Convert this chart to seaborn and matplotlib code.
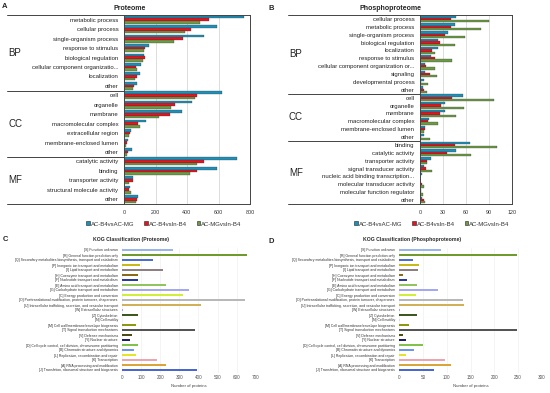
import numpy as np
import pandas as pd
import matplotlib
matplotlib.use("Agg")
import matplotlib.pyplot as plt
import matplotlib.transforms as mtrans
from matplotlib.patches import Patch
import seaborn as sns

sns.set_style("white")
plt.rcParams["font.family"] = ["Liberation Sans", "DejaVu Sans"]

# -----------------------------
# data
# -----------------------------
series = ["AC-B4vsAC-MG", "AC-B4vsIn-B4", "AC-MGvsIn-B4"]
series_colors = ["#1f8fb6", "#e1141f", "#6d9a45"]

# A: GO, proteome
prot_terms = ["metabolic process", "cellular process", "single-organism process",
              "response to stimulus", "biological regulation",
              "cellular component organizatio...", "localization", "other",
              "cell", "organelle", "membrane", "macromolecular complex",
              "extracellular region", "membrane-enclosed lumen", "other",
              "catalytic activity", "binding", "transporter activity",
              "structural molecule activity", "other"]
prot_groups = [("BP", 8), ("CC", 7), ("MF", 5)]
prot_b4_mg = [763, 591, 510, 161, 124, 105, 99, 81,
              624, 429, 371, 139, 43, 24, 49,
              720, 591, 60, 39, 88]
prot_b4_in = [538, 424, 377, 133, 133, 77, 81, 66,
              461, 324, 291, 92, 39, 17, 26,
              510, 461, 54, 34, 80]
prot_mg_in = [484, 388, 319, 129, 120, 81, 71, 60,
              450, 300, 221, 99, 30, 13, 17,
              461, 420, 34, 43, 75]

# B: GO, phosphoproteome
phos_terms = ["cellular process", "metabolic process", "single-organism process",
              "biological regulation", "localization", "response to stimulus",
              "cellular component organization or...", "signaling",
              "developmental process", "other",
              "cell", "organelle", "membrane", "macromolecular complex",
              "membrane-enclosed lumen", "other",
              "binding", "catalytic activity", "transporter activity",
              "signal transducer activity", "nucleic acid binding transcription...",
              "molecular transducer activity", "molecular function regulator", "other"]
phos_groups = [("BP", 10), ("CC", 6), ("MF", 8)]
phos_b4_mg = [47, 45, 37, 23, 23, 14, 7, 7, 5, 4,
              56, 33, 32, 12, 6, 5,
              65, 47, 14, 5, 3, 0, 1, 3]
phos_b4_in = [40, 40, 33, 26, 16, 20, 8, 13, 1, 5,
              42, 27, 26, 11, 6, 1,
              45, 35, 9, 8, 0, 3, 1, 5]
phos_mg_in = [90, 79, 59, 45, 20, 42, 19, 22, 11, 9,
              96, 57, 47, 23, 5, 13,
              100, 67, 9, 15, 0, 5, 4, 6]

# C / D: KOG classes
kog_labels = ["[S] Function unknown",
              "[R] General function prediction only",
              "[Q] Secondary metabolites biosynthesis, transport and catabolism",
              "[P] Inorganic ion transport and metabolism",
              "[I] Lipid transport and metabolism",
              "[H] Coenzyme transport and metabolism",
              "[F] Nucleotide transport and metabolism",
              "[E] Amino acid transport and metabolism",
              "[G] Carbohydrate transport and metabolism",
              "[C] Energy production and conversion",
              "[O] Posttranslational modification, protein turnover, chaperones",
              "[U] Intracellular trafficking, secretion, and vesicular transport",
              "[W] Extracellular structures",
              "[Z] Cytoskeleton",
              "[N] Cell motility",
              "[M] Cell wall/membrane/envelope biogenesis",
              "[T] Signal transduction mechanisms",
              "[V] Defense mechanisms",
              "[Y] Nuclear structure",
              "[D] Cell cycle control, cell division, chromosome partitioning",
              "[B] Chromatin structure and dynamics",
              "[L] Replication, recombination and repair",
              "[K] Transcription",
              "[A] RNA processing and modification",
              "[J] Translation, ribosomal structure and biogenesis"]
kog_colors = ["#9ab5ea", "#6e9a2e", "#4a6fd0", "#c9b81a", "#8e8080",
              "#8a6a18", "#2b3c9c", "#8fc45e", "#a3a8f0", "#d0ee3a",
              "#b8b8b8", "#d2b05a", "#a8a0f0", "#3c5a20", "#d8d8f0",
              "#8c9a12", "#555555", "#4d4a14", "#1e2066", "#80c24a",
              "#6e96ea", "#e4e42a", "#eba5b0", "#d9a53a", "#4a66d0"]
kog_prot = [265, 656, 160, 96, 215, 86, 86, 232, 351, 319, 644, 414, 7,
            86, 2, 73, 382, 51, 40, 84, 63, 72, 185, 232, 394]
kog_phos = [88, 248, 29, 43, 39, 8, 16, 38, 81, 35, 135, 137, 2,
            37, 2, 22, 248, 9, 15, 50, 32, 15, 97, 109, 73]

W, H = 550, 393


def rect(left, right, top, bottom):
    return [left / W, 1 - bottom / H, (right - left) / W, (bottom - top) / H]


def go_panel(ax, terms, groups, vals, xmax, step, line_px, ax_left, ax_right):
    keys = [f"{i}" for i in range(len(terms))]
    rows = []
    for s, v in zip(series, vals):
        for k, x in zip(keys, v):
            rows.append({"term": k, "series": s, "value": x})
    df = pd.DataFrame(rows)
    sns.barplot(data=df, y="term", x="value", hue="series", order=keys,
                hue_order=series, palette=series_colors, width=0.85,
                saturation=1, edgecolor="#333333", linewidth=0.2,
                legend=False, ax=ax)
    n = len(terms)
    ax.set_yticks(range(n))
    ax.set_yticklabels(terms, fontsize=4.3, color="#222222")
    ax.set_ylim(n - 0.5, -0.5)
    ax.set_xlim(0, xmax)
    ax.set_xticks(np.arange(0, xmax + 1, step))
    ax.tick_params(axis="x", labelsize=3.9, length=0, pad=4, colors="#333333")
    ax.tick_params(axis="y", length=0, pad=4)
    ax.set_xlabel("")
    ax.set_ylabel("")
    ax.grid(axis="x", color="#d0d0d0", lw=0.5)
    ax.set_axisbelow(True)
    for sp in ax.spines.values():
        sp.set_color("#444444")
        sp.set_linewidth(0.7)

    tr = mtrans.blended_transform_factory(ax.transAxes, ax.transData)
    xl = (line_px - ax_left) / (ax_right - ax_left)
    # frame extension over label area
    for y in (-0.5, n - 0.5):
        ax.plot([xl, 0], [y, y], transform=tr, clip_on=False,
                color="#444444", lw=0.7)
    start = 0
    for i, (g, cnt) in enumerate(groups):
        if i > 0:
            ax.plot([xl, 0], [start - 0.5, start - 0.5], transform=tr,
                    clip_on=False, color="#444444", lw=0.7)
        ax.text(xl + 0.01, start + cnt / 2 - 0.5, g, transform=tr,
                fontsize=7, va="center", ha="left", color="#222222")
        start += cnt


def kog_panel(ax, vals, xmax, step):
    df = pd.DataFrame({"kog": kog_labels, "value": vals})
    sns.barplot(data=df, y="kog", x="value", hue="kog", order=kog_labels,
                hue_order=kog_labels, palette=kog_colors, width=0.5,
                saturation=1, linewidth=0, legend=False, ax=ax)
    n = len(kog_labels)
    ax.set_ylim(n - 0.5, -0.5)
    ax.set_xlim(0, xmax)
    ax.set_xticks(np.arange(0, xmax + 1, step))
    ax.tick_params(axis="y", labelsize=2.5, length=0, pad=3, colors="#333333")
    ax.tick_params(axis="x", labelsize=3.3, length=0, pad=2, colors="#555555")
    ax.set_ylabel("")
    ax.set_xlabel("Number of proteins", fontsize=3.1, color="#444444", labelpad=3)
    ax.grid(axis="x", color="#ececec", lw=0.4)
    ax.set_axisbelow(True)
    sns.despine(ax=ax, left=True, bottom=True)


fig = plt.figure(figsize=(5.5, 3.93), dpi=100)

axA = fig.add_axes(rect(124, 250, 15, 204))
go_panel(axA, prot_terms, prot_groups, [prot_b4_mg, prot_b4_in, prot_mg_in],
         800, 200, 7, 124, 250)
axB = fig.add_axes(rect(420, 512, 15, 204))
go_panel(axB, phos_terms, phos_groups, [phos_b4_mg, phos_b4_in, phos_mg_in],
         120, 30, 288, 420, 512)

axC = fig.add_axes(rect(122, 255.7, 247.5, 372.5))
kog_panel(axC, kog_prot, 700, 100)
axD = fig.add_axes(rect(399, 542, 247.5, 372.5))
kog_panel(axD, kog_phos, 300, 50)

# titles and panel letters
fig.text(130 / W, 1 - 8 / H, "Proteome", fontsize=5, fontweight="bold",
         ha="center", va="center")
fig.text(390 / W, 1 - 8 / H, "Phosphoproteome", fontsize=5, fontweight="bold",
         ha="center", va="center")
fig.text(131 / W, 1 - 240 / H, "KOG Classification (Proteome)", fontsize=3.7,
         fontweight="bold", ha="center", va="center")
fig.text(412 / W, 1 - 240 / H, "KOG Classification (Phosphoproteome)",
         fontsize=3.7, fontweight="bold", ha="center", va="center")
for letter, x, y in [("A", 5, 6), ("B", 271, 9), ("C", 5, 239), ("D", 271, 242)]:
    fig.text(x / W, 1 - y / H, letter, fontsize=5.5, fontweight="bold",
             ha="center", va="center")

# legends
handles = [Patch(facecolor=c, edgecolor="#222222", linewidth=0.4) for c in series_colors]
for cx in (164, 432):
    fig.legend(handles, series, loc="center", bbox_to_anchor=(cx / W, 1 - 224 / H),
               ncol=3, frameon=False, fontsize=4.3, handlelength=0.6,
               handleheight=0.6, handletextpad=0.2, columnspacing=1.6,
               labelcolor="#333333")

fig.savefig("out.png", dpi=100)
